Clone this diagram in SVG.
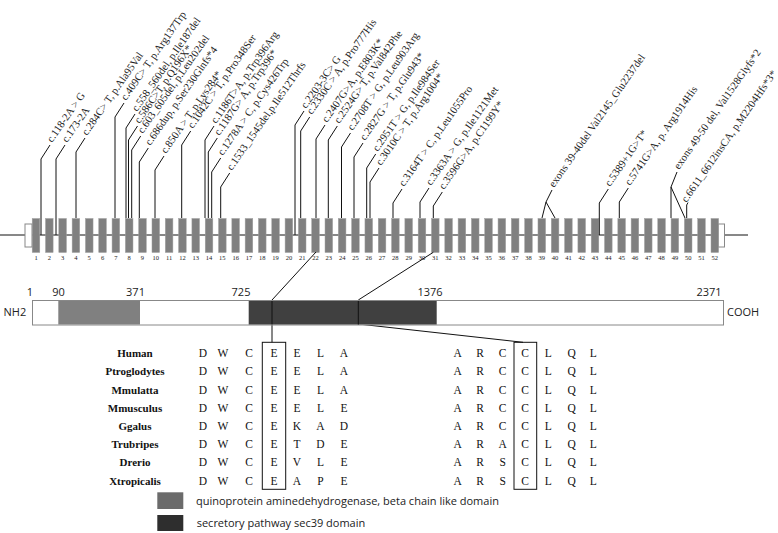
<svg xmlns="http://www.w3.org/2000/svg" width="778" height="533" viewBox="0 0 778 533">
<style>
.ex{fill:#808080;stroke:#a0a0a0;stroke-width:0.5}
.en{font-family:"Liberation Serif",serif;font-size:6.5px;text-anchor:middle;fill:#222}
.ml{font-family:"Liberation Serif",serif;font-size:10.7px;fill:#222}
.cn line,.cn polyline{stroke:#111;stroke-width:1;fill:none}
.sp{font-family:"Liberation Serif",serif;font-size:11px;font-weight:bold;text-anchor:middle;fill:#111}
.aa{font-family:"Liberation Serif",serif;font-size:11.5px;text-anchor:middle;fill:#111}
.sn{font-family:"Open Sans",sans-serif;font-size:11px;fill:#222}
.sc{text-anchor:middle}
</style>
<rect width="778" height="533" fill="#fff"/>
<g id="gene">
<line x1="0" y1="235" x2="748" y2="235" stroke="#111" stroke-width="1"/>
<rect x="25" y="224" width="7" height="23" fill="#fff" stroke="#888"/>
<rect x="718" y="224" width="6.5" height="23" fill="#fff" stroke="#888"/>
<g id="exons">
<rect class="ex" x="32.2" y="218.5" width="7.6" height="34"/>
<rect class="ex" x="45.51" y="218.5" width="7.6" height="34"/>
<rect class="ex" x="58.82" y="218.5" width="7.6" height="34"/>
<rect class="ex" x="72.13" y="218.5" width="7.6" height="34"/>
<rect class="ex" x="85.44" y="218.5" width="7.6" height="34"/>
<rect class="ex" x="98.75" y="218.5" width="7.6" height="34"/>
<rect class="ex" x="112.06" y="218.5" width="7.6" height="34"/>
<rect class="ex" x="125.37" y="218.5" width="7.6" height="34"/>
<rect class="ex" x="138.68" y="218.5" width="7.6" height="34"/>
<rect class="ex" x="151.99" y="218.5" width="7.6" height="34"/>
<rect class="ex" x="165.3" y="218.5" width="7.6" height="34"/>
<rect class="ex" x="178.61" y="218.5" width="7.6" height="34"/>
<rect class="ex" x="191.92" y="218.5" width="7.6" height="34"/>
<rect class="ex" x="205.23" y="218.5" width="7.6" height="34"/>
<rect class="ex" x="218.54" y="218.5" width="7.6" height="34"/>
<rect class="ex" x="231.85" y="218.5" width="7.6" height="34"/>
<rect class="ex" x="245.16" y="218.5" width="7.6" height="34"/>
<rect class="ex" x="258.47" y="218.5" width="7.6" height="34"/>
<rect class="ex" x="271.78" y="218.5" width="7.6" height="34"/>
<rect class="ex" x="285.09" y="218.5" width="7.6" height="34"/>
<rect class="ex" x="298.4" y="218.5" width="7.6" height="34"/>
<rect class="ex" x="311.71" y="218.5" width="7.6" height="34"/>
<rect class="ex" x="325.02" y="218.5" width="7.6" height="34"/>
<rect class="ex" x="338.33" y="218.5" width="7.6" height="34"/>
<rect class="ex" x="351.64" y="218.5" width="7.6" height="34"/>
<rect class="ex" x="364.95" y="218.5" width="7.6" height="34"/>
<rect class="ex" x="378.26" y="218.5" width="7.6" height="34"/>
<rect class="ex" x="391.57" y="218.5" width="7.6" height="34"/>
<rect class="ex" x="404.88" y="218.5" width="7.6" height="34"/>
<rect class="ex" x="418.19" y="218.5" width="7.6" height="34"/>
<rect class="ex" x="431.5" y="218.5" width="7.6" height="34"/>
<rect class="ex" x="444.81" y="218.5" width="7.6" height="34"/>
<rect class="ex" x="458.12" y="218.5" width="7.6" height="34"/>
<rect class="ex" x="471.43" y="218.5" width="7.6" height="34"/>
<rect class="ex" x="484.74" y="218.5" width="7.6" height="34"/>
<rect class="ex" x="498.05" y="218.5" width="7.6" height="34"/>
<rect class="ex" x="511.36" y="218.5" width="7.6" height="34"/>
<rect class="ex" x="524.67" y="218.5" width="7.6" height="34"/>
<rect class="ex" x="537.98" y="218.5" width="7.6" height="34"/>
<rect class="ex" x="551.29" y="218.5" width="7.6" height="34"/>
<rect class="ex" x="564.6" y="218.5" width="7.6" height="34"/>
<rect class="ex" x="577.91" y="218.5" width="7.6" height="34"/>
<rect class="ex" x="591.22" y="218.5" width="7.6" height="34"/>
<rect class="ex" x="604.53" y="218.5" width="7.6" height="34"/>
<rect class="ex" x="617.84" y="218.5" width="7.6" height="34"/>
<rect class="ex" x="631.15" y="218.5" width="7.6" height="34"/>
<rect class="ex" x="644.46" y="218.5" width="7.6" height="34"/>
<rect class="ex" x="657.77" y="218.5" width="7.6" height="34"/>
<rect class="ex" x="671.08" y="218.5" width="7.6" height="34"/>
<rect class="ex" x="684.39" y="218.5" width="7.6" height="34"/>
<rect class="ex" x="697.7" y="218.5" width="7.6" height="34"/>
<rect class="ex" x="711.01" y="218.5" width="7.6" height="34"/>
</g>
<g id="exon-numbers" class="en">
<text x="36" y="260">1</text><text x="49.31" y="260">2</text><text x="62.62" y="260">3</text><text x="75.93" y="260">4</text><text x="89.24" y="260">5</text><text x="102.55" y="260">6</text><text x="115.86" y="260">7</text><text x="129.17" y="260">8</text><text x="142.48" y="260">9</text><text x="155.79" y="260">10</text><text x="169.1" y="260">11</text><text x="182.41" y="260">12</text><text x="195.72" y="260">13</text><text x="209.03" y="260">14</text><text x="222.34" y="260">15</text><text x="235.65" y="260">16</text><text x="248.96" y="260">17</text><text x="262.27" y="260">18</text><text x="275.58" y="260">19</text><text x="288.89" y="260">20</text><text x="302.2" y="260">21</text><text x="315.51" y="260">22</text><text x="328.82" y="260">23</text><text x="342.13" y="260">24</text><text x="355.44" y="260">25</text><text x="368.75" y="260">26</text><text x="382.06" y="260">27</text><text x="395.37" y="260">28</text><text x="408.68" y="260">29</text><text x="421.99" y="260">30</text><text x="435.3" y="260">31</text><text x="448.61" y="260">32</text><text x="461.92" y="260">33</text><text x="475.23" y="260">34</text><text x="488.54" y="260">35</text><text x="501.85" y="260">36</text><text x="515.16" y="260">37</text><text x="528.47" y="260">38</text><text x="541.78" y="260">39</text><text x="555.09" y="260">40</text><text x="568.4" y="260">41</text><text x="581.71" y="260">42</text><text x="595.02" y="260">43</text><text x="608.33" y="260">44</text><text x="621.64" y="260">45</text><text x="634.95" y="260">46</text><text x="648.26" y="260">47</text><text x="661.57" y="260">48</text><text x="674.88" y="260">49</text><text x="688.19" y="260">50</text><text x="701.5" y="260">51</text><text x="714.81" y="260">52</text>
</g>
</g>
<g id="connectors" class="cn">
<polyline points="41,235 41,159 50,145"/>
<polyline points="56,235 56,159 65,145"/>
<polyline points="76,218 76,152 85,138"/>
<polyline points="115,218 115,117 124,103"/>
<polyline points="126,218 126,128 135,114"/>
<polyline points="128.5,218 128.5,140 137.5,126"/>
<polyline points="131.7,218 131.7,150 140.7,136"/>
<polyline points="139.3,218 139.3,162 148.3,148"/>
<polyline points="155,218 155,170 164,156"/>
<polyline points="181.7,218 181.7,145 190.7,131"/>
<polyline points="205,218 205,140 214,126"/>
<polyline points="208.3,218 208.3,152 217.3,138"/>
<polyline points="211.7,218 211.7,172 220.7,158"/>
<polyline points="220.7,218 220.7,187 229.7,173"/>
<polyline points="295,235 295,125 304,111"/>
<polyline points="300.7,218 300.7,131 309.7,117"/>
<polyline points="316,218 316,139 325,125"/>
<polyline points="328.3,218 328.3,140 337.3,126"/>
<polyline points="341.5,218 341.5,147 350.5,133"/>
<polyline points="354,218 354,157 363,143"/>
<polyline points="366.7,218 366.7,168 375.7,154"/>
<polyline points="370,218 370,182 379,168"/>
<polyline points="393,218 393,203 402,189"/>
<polyline points="420,218 420,202 429,188"/>
<polyline points="433.3,218 433.3,206 442.3,192"/>
<polyline points="542,218 546,202 555,218"/>
<polyline points="546,202 552,190"/>
<polyline points="599.3,235 599.3,203 608.3,189"/>
<polyline points="619.3,218 619.3,202 628.3,188"/>
<polyline points="671,218 671,187 685,218"/>
<polyline points="671,187 677,172"/>
<polyline points="686.7,218 686.7,205 688,202.5"/>
<polyline points="316,252 272,300 272,342.3"/>
<polyline points="433.3,252.3 358.3,300 358.3,324"/>
<line x1="358.3" y1="324" x2="523" y2="342.3"/>
</g>
<g id="mutation-labels" class="ml">
<text transform="translate(52,143) rotate(-55)">c.118-2A &gt; G</text>
<text transform="translate(67,143) rotate(-55)">c.173-2A</text>
<text transform="translate(87,136) rotate(-55)">c.284C&gt; T, p.Ala95Val</text>
<text transform="translate(126,101) rotate(-55)">c.409C&gt; T, p.Arg137Trp</text>
<text transform="translate(137,112) rotate(-55)">c.558_560del, p.Ile187del</text>
<text transform="translate(139.5,124) rotate(-55)">c.586C&gt;T, p.Q196X*</text>
<text transform="translate(142.7,134) rotate(-55)">c.603_605del, p.Leu202del</text>
<text transform="translate(150.3,146) rotate(-55)">c.686dup, p.Ser230Glnfs*4</text>
<text transform="translate(166,154) rotate(-55)">c.850A &gt; T, p.Lys284*</text>
<text transform="translate(192.7,129) rotate(-55)">c.1042C &gt; T, p.Pro348Ser</text>
<text transform="translate(216,124) rotate(-55)">c.1186T&gt;A, p.Trp396Arg</text>
<text transform="translate(219.3,136) rotate(-55)">c.1187G&gt; A, p.Trp396*</text>
<text transform="translate(222.7,156) rotate(-55)">c.1278A &gt; C, p.Cys426Trp</text>
<text transform="translate(231.7,171) rotate(-55)">c.1533_1545del,p.Ile512Thrfs</text>
<text transform="translate(306,109) rotate(-55)">c.2203-3C&gt; G</text>
<text transform="translate(311.7,115) rotate(-55)">c.2330C &gt; A, p.Pro777His</text>
<text transform="translate(327,123) rotate(-55)">c.2407G&gt;A, p.E803K*</text>
<text transform="translate(339.3,124) rotate(-55)">c.2524G&gt; T, p.Val842Phe</text>
<text transform="translate(352.5,131) rotate(-55)">c.2708T &gt; G, p.Leu903Arg</text>
<text transform="translate(365,141) rotate(-55)">c.2827G &gt; T, p.Glu943*</text>
<text transform="translate(377.7,152) rotate(-55)">c.2951T &gt; G, p.Ile984Ser</text>
<text transform="translate(381,166) rotate(-55)">c.3010C &gt; T, p.Arg1004*</text>
<text transform="translate(404,187) rotate(-55)">c.3164T &gt; C, p.Leu1055Pro</text>
<text transform="translate(431,186) rotate(-55)">c.3363A &gt; G, p.Ile1121Met</text>
<text transform="translate(444,190) rotate(-55)">c.3596G&gt;A, p.C1199Y*</text>
<text transform="translate(554,188) rotate(-55)">exons 39-40del Val2145_Glu2237del</text>
<text transform="translate(610,187) rotate(-55)">c.5389+1G&gt;T*</text>
<text transform="translate(630,186) rotate(-55)">c.5741G&gt;A, p. Arg1914His</text>
<text transform="translate(679,170) rotate(-55)">exons 49-50 del, Val1528Glyfs*2</text>
<text transform="translate(686.5,203) rotate(-55)">c.6611_6612insCA, p.M2204Hfs*3*</text>
</g>
<g id="protein">
<rect x="32.5" y="300.5" width="691" height="24.5" fill="#fff" stroke="#888"/>
<rect x="58.3" y="301" width="81.7" height="23.5" fill="#808080"/>
<rect x="248.7" y="301" width="188" height="23.5" fill="#404040"/>
<line x1="358.3" y1="301" x2="358.3" y2="324.5" stroke="#111" stroke-width="1"/>
<line x1="272" y1="301" x2="272" y2="324.5" stroke="#111" stroke-width="1"/>
<g class="sn sc">
<text x="30" y="295.5">1</text>
<text x="58.5" y="295.5">90</text>
<text x="135.5" y="295.5">371</text>
<text x="241" y="295.5">725</text>
<text x="430" y="295.5">1376</text>
<text x="709" y="295.5">2371</text>
</g>
<text class="sn" x="3.5" y="316">NH2</text>
<text class="sn" x="727" y="316">COOH</text>
</g>
<g id="alignment">
<rect x="262.3" y="342.3" width="23.4" height="147" fill="none" stroke="#111"/>
<rect x="514" y="342.3" width="22.7" height="147" fill="none" stroke="#111"/>
<g class="sp">
<text x="135" y="357.2">Human</text>
<text x="135" y="375.4">Ptroglodytes</text>
<text x="135" y="393.6">Mmulatta</text>
<text x="135" y="411.8">Mmusculus</text>
<text x="135" y="430">Ggalus</text>
<text x="135" y="448.2">Trubripes</text>
<text x="135" y="466.4">Drerio</text>
<text x="135" y="484.6">Xtropicalis</text>
</g>
<g class="aa">
<text y="357.2"><tspan x="203">D</tspan><tspan x="223">W</tspan><tspan x="249">C</tspan><tspan x="274">E</tspan><tspan x="297">E</tspan><tspan x="320.5">L</tspan><tspan x="344">A</tspan><tspan x="457.7">A</tspan><tspan x="480">R</tspan><tspan x="502.7">C</tspan><tspan x="525">C</tspan><tspan x="548.3">L</tspan><tspan x="571.7">Q</tspan><tspan x="593.3">L</tspan></text>
<text y="375.4"><tspan x="203">D</tspan><tspan x="223">W</tspan><tspan x="249">C</tspan><tspan x="274">E</tspan><tspan x="297">E</tspan><tspan x="320.5">L</tspan><tspan x="344">A</tspan><tspan x="457.7">A</tspan><tspan x="480">R</tspan><tspan x="502.7">C</tspan><tspan x="525">C</tspan><tspan x="548.3">L</tspan><tspan x="571.7">Q</tspan><tspan x="593.3">L</tspan></text>
<text y="393.6"><tspan x="203">D</tspan><tspan x="223">W</tspan><tspan x="249">C</tspan><tspan x="274">E</tspan><tspan x="297">E</tspan><tspan x="320.5">L</tspan><tspan x="344">A</tspan><tspan x="457.7">A</tspan><tspan x="480">R</tspan><tspan x="502.7">C</tspan><tspan x="525">C</tspan><tspan x="548.3">L</tspan><tspan x="571.7">Q</tspan><tspan x="593.3">L</tspan></text>
<text y="411.8"><tspan x="203">D</tspan><tspan x="223">W</tspan><tspan x="249">C</tspan><tspan x="274">E</tspan><tspan x="297">E</tspan><tspan x="320.5">L</tspan><tspan x="344">E</tspan><tspan x="457.7">A</tspan><tspan x="480">R</tspan><tspan x="502.7">C</tspan><tspan x="525">C</tspan><tspan x="548.3">L</tspan><tspan x="571.7">Q</tspan><tspan x="593.3">L</tspan></text>
<text y="430"><tspan x="203">D</tspan><tspan x="223">W</tspan><tspan x="249">C</tspan><tspan x="274">E</tspan><tspan x="297">K</tspan><tspan x="320.5">A</tspan><tspan x="344">D</tspan><tspan x="457.7">A</tspan><tspan x="480">R</tspan><tspan x="502.7">C</tspan><tspan x="525">C</tspan><tspan x="548.3">L</tspan><tspan x="571.7">Q</tspan><tspan x="593.3">L</tspan></text>
<text y="448.2"><tspan x="203">D</tspan><tspan x="223">W</tspan><tspan x="249">C</tspan><tspan x="274">E</tspan><tspan x="297">T</tspan><tspan x="320.5">D</tspan><tspan x="344">E</tspan><tspan x="457.7">A</tspan><tspan x="480">R</tspan><tspan x="502.7">A</tspan><tspan x="525">C</tspan><tspan x="548.3">L</tspan><tspan x="571.7">Q</tspan><tspan x="593.3">L</tspan></text>
<text y="466.4"><tspan x="203">D</tspan><tspan x="223">W</tspan><tspan x="249">C</tspan><tspan x="274">E</tspan><tspan x="297">V</tspan><tspan x="320.5">L</tspan><tspan x="344">E</tspan><tspan x="457.7">A</tspan><tspan x="480">R</tspan><tspan x="502.7">S</tspan><tspan x="525">C</tspan><tspan x="548.3">L</tspan><tspan x="571.7">Q</tspan><tspan x="593.3">L</tspan></text>
<text y="484.6"><tspan x="203">D</tspan><tspan x="223">W</tspan><tspan x="249">C</tspan><tspan x="274">E</tspan><tspan x="297">A</tspan><tspan x="320.5">P</tspan><tspan x="344">E</tspan><tspan x="457.7">A</tspan><tspan x="480">R</tspan><tspan x="502.7">S</tspan><tspan x="525">C</tspan><tspan x="548.3">L</tspan><tspan x="571.7">Q</tspan><tspan x="593.3">L</tspan></text>
</g>
</g>
<g id="legend">
<rect x="157.3" y="492.3" width="26" height="16.7" fill="#6b6b6b"/>
<rect x="157.3" y="515" width="26" height="16" fill="#2e2e2e"/>
<text class="sn" x="196" y="504.5">quinoprotein aminedehydrogenase, beta chain like domain</text>
<text class="sn" x="196.7" y="527">secretory pathway sec39 domain</text>
</g>
</svg>
